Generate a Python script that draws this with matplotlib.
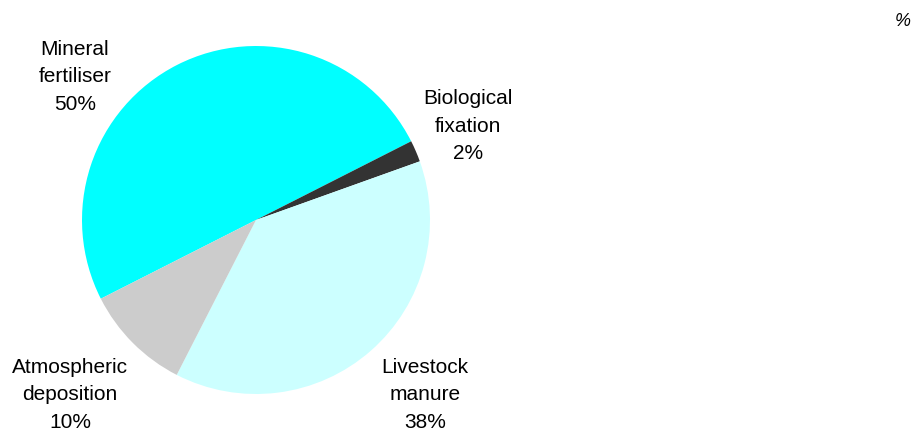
import matplotlib
matplotlib.use("Agg")
import matplotlib.pyplot as plt

plt.rcParams['font.family'] = ['Liberation Sans', 'DejaVu Sans']

# Sources of nitrogen input, share in percent
sources = ["Mineral\nfertiliser", "Biological\nfixation", "Livestock\nmanure", "Atmospheric\ndeposition"]
shares = [50, 2, 38, 10]
colors = ["#00FFFF", "#333333", "#CCFFFF", "#CCCCCC"]

W, H = 915, 430
fig = plt.figure(figsize=(W / 100, H / 100), dpi=100)
ax = fig.add_axes([0, 0, 1, 1])

cx, cy, r = 256, H - 220, 174
ax.pie(shares, colors=colors, startangle=206.9, counterclock=False,
       center=(cx, cy), radius=r, frame=True,
       wedgeprops=dict(linewidth=0))
ax.set_xlim(0, W)
ax.set_ylim(0, H)
ax.set_aspect("equal")
ax.axis("off")

# label anchor positions (pixels from top-left)
label_pos = [(75, 77), (468, 126), (425, 395), (70, 395)]
for name, val, (x, y) in zip(sources, shares, label_pos):
    ax.text(x, H - y, f"{name}\n{val}%", ha="center", va="center",
            fontsize=15, linespacing=1.55, color="#000000")

fig.text(903 / W, 1 - 21 / H, "%", ha="center", va="center",
         fontsize=13, style="italic")

fig.savefig("out.png", dpi=100)
